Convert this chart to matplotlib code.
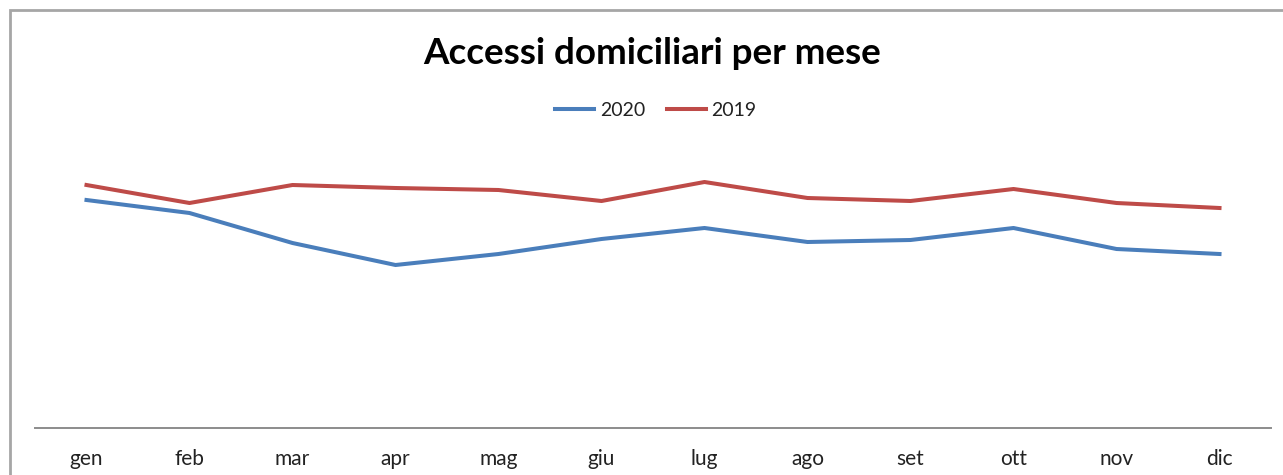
import matplotlib
matplotlib.use("Agg")
import matplotlib.pyplot as plt
from matplotlib.patches import Rectangle

plt.rcParams['font.family'] = ['Lato', 'DejaVu Sans']

months = ["gen", "feb", "mar", "apr", "mag", "giu", "lug", "ago", "set", "ott", "nov", "dic"]
accessi_2020 = [228, 215, 185, 163, 174, 189, 200, 186, 188, 200, 179, 174]
accessi_2019 = [243, 225, 243, 240, 238, 227, 246, 230, 227, 239, 225, 220]

W, H = 1283, 475
fig = plt.figure(figsize=(W / 100, H / 100), dpi=100)

# chart frame (runs off the right and bottom edges)
fig.patches.append(Rectangle((10 / W, -0.1), 1.2, (H - 10) / H + 0.1,
                             transform=fig.transFigure, fill=False,
                             edgecolor="#A6A6A6", linewidth=2))

ax = fig.add_axes([35 / W, (H - 428) / H, (1271 - 35) / W, (428 - 130) / H])
x = range(len(months))
ax.plot(x, accessi_2020, color="#4A7EBB", lw=2.9, label="2020", solid_joinstyle="round")
ax.plot(x, accessi_2019, color="#BE4B48", lw=2.9, label="2019", solid_joinstyle="round")

ax.set_xlim(-0.5, len(months) - 0.5)
ax.set_ylim(0, 298)
ax.set_xticks(list(x))
ax.set_xticklabels(months, fontsize=15, color="#222222")
ax.tick_params(axis="x", length=0, pad=15)
ax.set_yticks([])
for s in ("top", "right", "left"):
    ax.spines[s].set_visible(False)
ax.spines["bottom"].set_color("#8C8C8C")
ax.spines["bottom"].set_linewidth(1.4)

fig.text(652 / W, 1 - 53 / H, "Accessi domiciliari per mese", ha="center", va="center",
         fontsize=26.5, fontweight="bold", color="black")

fig.legend(loc="center", bbox_to_anchor=(656 / W, 1 - 110 / H), ncol=2, frameon=False,
           fontsize=14, handlelength=2.0, handletextpad=0.3, columnspacing=1.1,
           labelcolor="#222222")

fig.savefig("out.png", dpi=100)
